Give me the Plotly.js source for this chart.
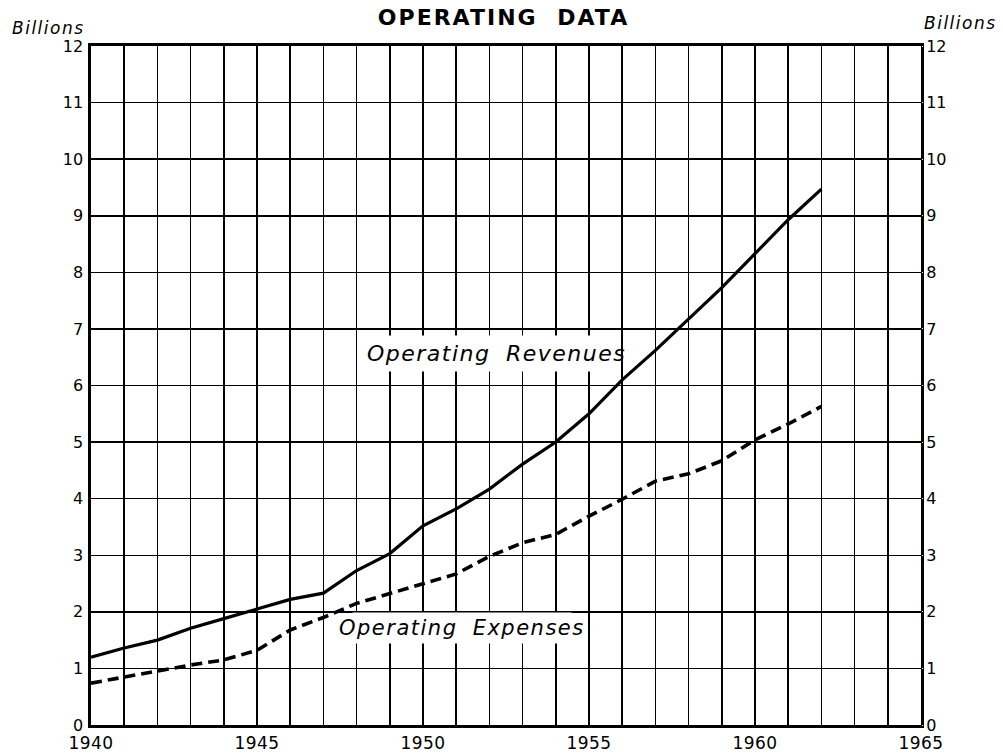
<!DOCTYPE html>
<html>
<head>
<meta charset="utf-8">
<script src="https://cdn.plot.ly/plotly-3.0.1.min.js"></script>
<style>
html,body{margin:0;padding:0;background:#fff;}
#chart{width:1003px;height:755px;}
#chart .gtitle{letter-spacing:2px;word-spacing:10px;}
#chart .annotation-text{letter-spacing:1.5px;word-spacing:7px;}
#chart .xtick text{letter-spacing:0.5px;}
</style>
</head>
<body>
<div id="chart"></div>
<script>
// Data (billions of dollars)
const years = [1940,1941,1942,1943,1944,1945,1946,1947,1948,1949,1950,1951,1952,1953,1954,1955,1956,1957,1958,1959,1960,1961,1962];
const revenues = [1.20,1.36,1.50,1.71,1.88,2.05,2.22,2.33,2.73,3.03,3.52,3.82,4.17,4.61,5.00,5.50,6.10,6.62,7.17,7.73,8.33,8.93,9.47];
const expenses = [0.74,0.85,0.96,1.06,1.15,1.32,1.68,1.90,2.15,2.32,2.50,2.67,2.98,3.22,3.37,3.69,3.99,4.31,4.44,4.67,5.04,5.32,5.63];
const xGridYears = [1940,1941,1942,1943,1944,1945,1946,1947,1948,1949,1950,1951,1952,1953,1954,1955,1956,1957,1958,1959,1960,1961,1962,1963,1964,1965];
const xTickLabels = ['1940','','','','','1945','','','','','1950','','','','','1955','','','','','1960','','','','','1965'];
const yTickVals = [0,1,2,3,4,5,6,7,8,9,10,11,12];

const tickFont = {family: 'DejaVu Sans, sans-serif', size: 16, color: '#000'};
const xTickFont = {family: 'DejaVu Sans, sans-serif', size: 17, color: '#000'};

const traces = [
  {x: years, y: revenues, type: 'scatter', mode: 'lines', name: 'Operating Revenues',
   line: {color: '#000', width: 3.2}, hoverinfo: 'skip', showlegend: false},
  {x: years, y: expenses, type: 'scatter', mode: 'lines', name: 'Operating Expenses',
   line: {color: '#000', width: 3.6, dash: '11px,6px'}, hoverinfo: 'skip', showlegend: false},
  {x: years, y: revenues, type: 'scatter', mode: 'lines', yaxis: 'y2',
   line: {color: 'rgba(0,0,0,0)', width: 0}, hoverinfo: 'skip', showlegend: false}
];

const layout = {
  width: 1003, height: 755,
  margin: {l: 91, r: 82, t: 46, b: 30, pad: 0},
  paper_bgcolor: '#fff', plot_bgcolor: '#fff',
  title: {text: 'OPERATING DATA', x: 0.502, xanchor: 'center', y: 1 - 17.5/755, yanchor: 'middle',
          font: {family: 'DejaVu Sans, sans-serif', size: 22, weight: 'bold', color: '#000'}},
  xaxis: {
    range: [1940, 1965], tickvals: xGridYears, ticktext: xTickLabels,
    showgrid: true, gridcolor: '#000', gridwidth: 1.5,
    showline: true, linecolor: '#000', linewidth: 2.6, mirror: true,
    ticks: 'outside', ticklen: 1, tickcolor: '#fff',
    tickfont: xTickFont, zeroline: false, automargin: false, fixedrange: true
  },
  yaxis: {
    range: [0, 12], tickvals: yTickVals,
    showgrid: true, gridcolor: '#000', gridwidth: 1.5,
    showline: true, linecolor: '#000', linewidth: 2.6, mirror: true,
    ticks: 'outside', ticklen: 2, tickcolor: '#fff',
    tickfont: tickFont, zeroline: false, automargin: false, fixedrange: true
  },
  yaxis2: {
    range: [0, 12], tickvals: yTickVals, overlaying: 'y', side: 'right',
    showgrid: false, showline: false, zeroline: false,
    ticks: 'outside', ticklen: 1, tickcolor: '#fff',
    tickfont: tickFont, automargin: false, fixedrange: true
  },
  annotations: [
    {text: 'Billions', xref: 'paper', yref: 'paper', x: -0.051, y: (725-27.5)/679, xanchor: 'center', yanchor: 'middle',
     showarrow: false, font: {family: 'DejaVu Sans, sans-serif', size: 17, style: 'italic', color: '#000'}},
    {text: 'Billions', xref: 'paper', yref: 'paper', x: 1.047, y: (725-23)/679, xanchor: 'center', yanchor: 'middle',
     showarrow: false, font: {family: 'DejaVu Sans, sans-serif', size: 17, style: 'italic', color: '#000'}},
    {text: 'Operating Revenues', x: 1952.2, y: 6.57, xref: 'x', yref: 'y',
     showarrow: false, bgcolor: '#fff', borderpad: 5,
     font: {family: 'DejaVu Sans, sans-serif', size: 22, style: 'italic', color: '#000'}},
    {text: 'Operating Expenses', x: 1951.17, y: 1.71, xref: 'x', yref: 'y',
     showarrow: false, bgcolor: '#fff', borderpad: 3,
     font: {family: 'DejaVu Sans, sans-serif', size: 21, style: 'italic', color: '#000'}}
  ]
};

Plotly.newPlot('chart', traces, layout, {staticPlot: true, displayModeBar: false});
</script>
</body>
</html>
